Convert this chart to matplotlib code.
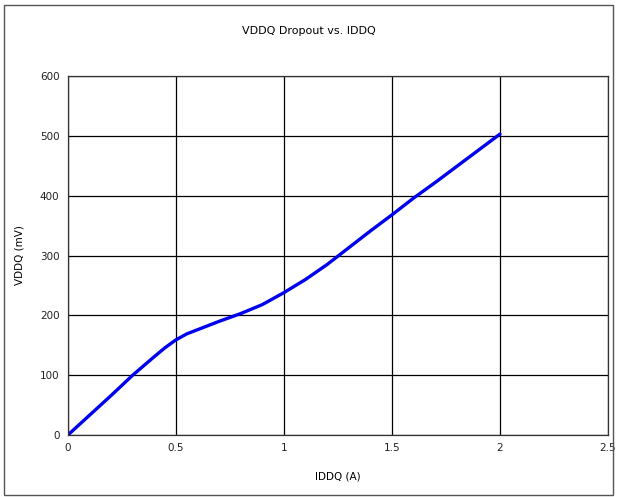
import matplotlib
matplotlib.use("Agg")
import matplotlib.pyplot as plt
from matplotlib.patches import Rectangle

# Data
iddq_a = [0.0, 0.1, 0.2, 0.3, 0.4, 0.45, 0.5, 0.55, 0.6, 0.65, 0.7, 0.8, 0.9, 1.0,
          1.1, 1.2, 1.3, 1.4, 1.5, 1.6, 1.7, 1.8, 1.9, 2.0]
vddq_mv = [0, 33, 66, 100, 131, 146, 159, 169, 176, 183, 190, 203, 218, 238,
           260, 285, 313, 341, 368, 396, 422, 449, 476, 503]
x_ticks = [0, 0.5, 1, 1.5, 2, 2.5]
x_tick_labels = ["0", "0.5", "1", "1.5", "2", "2.5"]
y_ticks = [0, 100, 200, 300, 400, 500, 600]

plt.rcParams["font.family"] = ["DejaVu Sans"]
fig = plt.figure(figsize=(6.17, 4.97), dpi=100)
fig.patches.append(Rectangle((0.006, 0.004), 0.988, 0.986, transform=fig.transFigure,
                             fill=False, edgecolor="#555555", linewidth=1.0))
ax = fig.add_axes([0.110, 0.1247, 0.8754, 0.7223])
ax.plot(iddq_a, vddq_mv, color="#0000ee", linewidth=2.4, solid_capstyle="round")
ax.set_xlim(0, 2.5)
ax.set_ylim(0, 600)
ax.set_xticks(x_ticks)
ax.set_xticklabels(x_tick_labels)
ax.set_yticks(y_ticks)
ax.grid(True, color="black", linewidth=0.9)
ax.set_axisbelow(True)
for spine in ax.spines.values():
    spine.set_color("#333333")
    spine.set_linewidth(0.9)
ax.tick_params(length=0, labelsize=7.5, colors="#222222", pad=6)
ax.set_xlabel("IDDQ (A)", fontsize=7.5, labelpad=13)
ax.set_ylabel("VDDQ (mV)", fontsize=7.5, labelpad=11)
fig.text(0.5, 0.937, "VDDQ Dropout vs. IDDQ", ha="center", va="center", fontsize=8)

fig.savefig("out.png", dpi=100)
